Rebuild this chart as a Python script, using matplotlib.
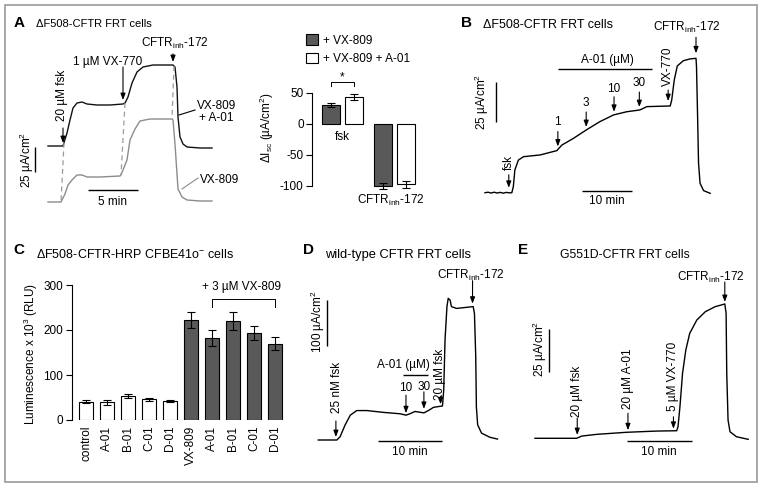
import numpy as np
import matplotlib.pyplot as plt

plt.rcParams['font.family'] = ['Liberation Sans', 'DejaVu Sans']
plt.rcParams['font.size'] = 8.5
plt.rcParams['mathtext.fontset'] = 'custom'
plt.rcParams['mathtext.rm'] = 'Liberation Sans'
plt.rcParams['mathtext.it'] = 'Liberation Sans:italic'
plt.rcParams['mathtext.default'] = 'regular'
plt.rcParams['axes.unicode_minus'] = False
plt.rcParams['axes.linewidth'] = 0.8

W, H = 762, 487

# ---- data -------------------------------------------------------------
# A: Isc traces (time in min, current in uA/cm2 relative to baseline)
a_t_combo = [0, 1.5, 1.9, 2.2, 2.5, 2.9, 3.4, 3.9, 4.9, 6.2, 7.5, 7.7, 8.0, 8.4,
             8.9, 9.5, 10.5, 12.5, 12.7, 12.9, 13.0, 13.2, 13.5, 13.9, 15.2, 16.4]
a_i_combo = [0, 0, 13, 26, 38, 43, 44, 42, 41, 41, 42, 43, 49, 63,
             74, 79, 81, 81, 79, 59, 29, 9, 2, -1, -2, -2]
a_t_vx809 = [0, 1.3, 1.7, 2.0, 2.4, 2.9, 3.4, 3.9, 5.2, 7.2, 7.3, 7.9, 8.2, 8.7,
             9.2, 10.2, 12.4, 12.5, 12.7, 12.9, 13.0, 13.4, 13.9, 15.2, 16.4]
a_i_vx809 = [0, 0, 8, 17, 22, 27, 27, 25, 25, 26, 27, 42, 62, 73,
             81, 83, 83, 82, 58, 28, 13, 5, 2, 1, 1]

# A: summary bars
a_groups = ['fsk', 'CFTR$_{inh}$-172']
a_vx809 = [30, -101]
a_vx809_err = [3, 5]
a_combo = [43, -98]
a_combo_err = [5, 5]

# B
b_t = [0, 0.6, 1.2, 1.8, 2.4, 3.0, 3.6, 4.2, 4.8, 5.3, 5.6, 5.9, 6.6, 7.6, 10.9,
       14.2, 15.2, 17.5, 20.0, 22.7, 25.4, 28.0, 30.6, 32.0, 36.6, 36.9, 37.4,
       38.0, 39.2, 40.5, 41.7, 41.8, 42.0, 42.2, 42.5, 43.2, 44.5]
b_i = [0, 0.3, -0.2, 0.3, -0.2, 0.2, -0.3, 0.2, -0.1, 0, 3.8, 14.2, 20.4, 22.5, 23.6,
       26.3, 29.8, 34, 39.2, 44.4, 48.6, 50.6, 51.7, 53.8, 54.2, 57.9, 70.4,
       79.2, 82.5, 83.6, 84, 78.8, 49.8, 18.6, 5.9, 1.3, -0.4]
b_a01_conc = ['1', '3', '10', '30']
b_a01_time = [14.4, 20.0, 25.5, 30.5]

# C
c_labels = ['control', 'A-01', 'B-01', 'C-01', 'D-01',
            'VX-809', 'A-01', 'B-01', 'C-01', 'D-01']
c_values = [41, 39, 53, 46, 42, 222, 183, 220, 193, 170]
c_errors = [4, 5, 5, 3, 2, 17, 18, 21, 15, 15]

# D
d_t = [0, 2.9, 3.4, 4.2, 5.0, 6.0, 7.6, 10.2, 12.8, 13.7, 14.3, 15.1, 16.5, 17.2,
       18.0, 19.4, 19.6, 19.8, 20.1, 20.3, 20.6, 20.8, 21.6, 24.2, 24.4, 24.6,
       24.7, 24.9, 25.5, 26.8, 28.0]
d_i = [0, 0, 7, 33, 54, 64, 64, 60, 57, 54, 57, 62, 59, 64,
       71, 74, 109, 217, 290, 308, 304, 290, 286, 290, 275, 181,
       72, 33, 15, 6, 2]

# E
e_t = [0, 6.4, 7.2, 9.5, 14.1, 18.7, 21.8, 22.0, 22.3, 22.7, 23.2, 23.8, 24.9,
       26.2, 27.7, 29.2, 29.4, 29.5, 29.7, 30.0, 31.0, 32.8]
e_i = [0, 0, 1.3, 2.3, 3.5, 4.2, 4.4, 6.7, 18.4, 37.8, 51.3, 61, 68.8,
       73.6, 76.5, 78.1, 72.7, 37.8, 10.6, 3.8, 0.9, -0.6]

DARK = '#595959'

fig = plt.figure(figsize=(W / 100, H / 100), dpi=100)

# overlay in pixel coordinates for frame and free text
ov = fig.add_axes([0, 0, 1, 1])
ov.set_xlim(0, W)
ov.set_ylim(H, 0)
ov.axis('off')
ov.add_patch(plt.Rectangle((4.5, 4.5), 752.5, 477, fill=False, ec='#9a9a9a', lw=1.2))


def txt(x, y, s, size=8.5, rot=0, ha='center', va='center', **kw):
    ov.text(x, y, s, fontsize=size, rotation=rot, ha=ha, va=va, **kw)


def px_axes(left, top, right, bottom):
    return fig.add_axes([left / W, 1 - bottom / H, (right - left) / W, (bottom - top) / H])


def trace_axes(box, x0, t_px, y0, i_px):
    # box in pixels; x0/y0 = pixel of t=0 / I=0; t_px px per min, i_px px per uA/cm2
    left, top, right, bottom = box
    ax = px_axes(*box)
    ax.set_xlim((left - x0) / t_px, (right - x0) / t_px)
    ax.set_ylim((y0 - bottom) / i_px, (y0 - top) / i_px)
    ax.axis('off')
    return ax


def arrow(ax, t, tt, ii, length, gap=3, offset=0):
    y = np.interp(t, tt, ii) + offset
    ax.annotate('', xy=(t, y), xytext=(0, length + gap), textcoords='offset pixels',
                arrowprops=dict(arrowstyle='-|>,head_length=0.45,head_width=0.17',
                                lw=0.8, color='black', shrinkA=0, shrinkB=gap * 0.72))


def bar(ax, x0, x1, y0, y1, **kw):
    ax.plot([x0, x1], [y0, y1], color='black', lw=1.0, solid_capstyle='butt',
            clip_on=False, **kw)


# ---- panel letters and titles -----------------------------------------
for x, y, letter in [(19, 23, 'A'), (467, 23, 'B'), (19, 250, 'C'), (308, 250, 'D'), (523, 250, 'E')]:
    txt(x, y, letter, size=11, weight='bold')
txt(36, 24, '\u0394F508-CFTR FRT cells', size=8, ha='left')
txt(483, 25, '\u0394F508-CFTR FRT cells', size=9, ha='left')
txt(36, 255, '\u0394F508-CFTR-HRP CFBE41o$^{-}$ cells', size=9, ha='left')
txt(325, 255, 'wild-type CFTR FRT cells', size=9.3, ha='left')
txt(560, 255, 'G551D-CFTR FRT cells', size=8.8, ha='left')

# ---- A traces -----------------------------------------------------------
LOW = -56  # vertical offset of the VX-809 trace
axA = trace_axes((15, 30, 245, 230), 48, 10, 146, 1)
axA.plot(a_t_combo, a_i_combo, color='#111111', lw=1.0)
axA.plot(a_t_vx809, np.array(a_i_vx809) + LOW, color='#8c8c8c', lw=1.0)
for tu, tl in [(1.6, 1.3), (7.7, 7.3), (12.6, 12.4)]:
    axA.plot([tu, tl], [np.interp(tu, a_t_combo, a_i_combo),
                        np.interp(tl, a_t_vx809, a_i_vx809) + LOW],
             color='#9a9a9a', lw=0.9, ls=(0, (4, 3)))
arrow(axA, 1.5, a_t_combo, a_i_combo, 15)
arrow(axA, 7.5, a_t_combo, a_i_combo, 33, gap=4)
arrow(axA, 12.5, a_t_combo, a_i_combo, 8)
axA.plot([14.7, 13.1], [36, 31], color='black', lw=0.8)
axA.plot([15.0, 13.4], [-32, -43], color='#8c8c8c', lw=0.8)
bar(axA, -1.3, -1.3, -1, -26)
bar(axA, 4, 9, -44, -44)
txt(62.5, 95.5, '20 \u00b5M fsk', rot=90)
txt(108, 62, '1 \u00b5M VX-770')
txt(175, 43, 'CFTR$_{inh}$-172')
txt(197, 106, 'VX-809', ha='left')
txt(199, 118, '+ A-01', ha='left')
txt(200, 180, 'VX-809', ha='left')
txt(27, 160, '25 \u00b5A/cm$^2$', rot=90)
txt(113, 202, '5 min')

# ---- A bars -------------------------------------------------------------
axAb = px_axes(312, 92.7, 420, 185.7)
pos1 = np.array([0, 2.3])
b1 = axAb.bar(pos1, a_vx809, 0.78, color=DARK, edgecolor='black', lw=0.8,
              yerr=a_vx809_err, capsize=3.2, error_kw=dict(elinewidth=0.8, capthick=0.8))
b2 = axAb.bar(pos1 + 1, a_combo, 0.78, color='white', edgecolor='black', lw=0.8,
              yerr=a_combo_err, capsize=3.2, error_kw=dict(elinewidth=0.8, capthick=0.8))
for c in (b1, b2):
    for p in c.patches:
        p.set_clip_on(False)
    for l in c.errorbar.lines[1] + c.errorbar.lines[2]:
        l.set_clip_on(False)
axAb.set_ylim(-100, 50)
axAb.set_xlim(-0.85, 3.93)
axAb.set_yticks([-100, -50, 0, 50])
axAb.set_xticks([])
for s in ('top', 'right', 'bottom'):
    axAb.spines[s].set_visible(False)
axAb.tick_params(axis='y', length=4, width=0.8, labelsize=8.5, pad=2)
axAb.plot([0, 0, 1, 1], [60, 67, 67, 60], color='black', lw=0.7, clip_on=False)
axAb.patch.set_alpha(0)
txt(342, 77, '*')
txt(342, 137, a_groups[0])
txt(391, 200, a_groups[1])
txt(267, 128, '\u0394I$_{sc}$ (\u00b5A/cm$^2$)', rot=90)
fig.legend([b1, b2], ['+ VX-809', '+ VX-809 + A-01'], loc='upper left',
           bbox_to_anchor=(305.5 / W, 1 - 34.5 / H), frameon=False, fontsize=8.5,
           handlelength=1.1, handleheight=1.0, handletextpad=0.35,
           labelspacing=0.5, borderpad=0, borderaxespad=0)

# ---- B ------------------------------------------------------------------
axB = trace_axes((470, 30, 740, 215), 485, 5.06, 192.7, 1.6)
axB.plot(b_t, b_i, color='black', lw=1.0)
arrow(axB, 4.7, b_t, b_i, 13, gap=5)
for t in b_a01_time:
    arrow(axB, t, b_t, b_i, 15, gap=3)
arrow(axB, 36.2, b_t, b_i, 11, gap=5)
arrow(axB, 41.7, b_t, b_i, 16, gap=5)
bar(axB, 14.5, 33.1, 77.3, 77.3, )
bar(axB, 2.2, 2.2, 44, 69)
bar(axB, 19.1, 29.1, 1.2, 1.2)
txt(509, 162, 'fsk', rot=90)
for (x, y), s in zip([(557.7, 121.7), (586, 103.3), (614, 89.3), (639.3, 83.3)], b_a01_conc):
    txt(x, y, s)
txt(607, 60, 'A-01 (\u00b5M)')
txt(668, 66, 'VX-770', rot=90)
txt(687, 27, 'CFTR$_{inh}$-172')
txt(482, 102, '25 \u00b5A/cm$^2$', rot=90)
txt(607, 201, '10 min')

# ---- C ------------------------------------------------------------------
axC = px_axes(71.7, 285, 290, 420)
xc = np.arange(len(c_values))
axC.bar(xc, c_values, 0.67, color=['white'] * 5 + [DARK] * 5, edgecolor='black', lw=0.8,
        yerr=c_errors, capsize=2.6, error_kw=dict(elinewidth=0.8, capthick=0.8))
axC.set_ylim(0, 300)
axC.set_xlim(-0.7, 9.7)
axC.set_yticks([0, 100, 200, 300])
axC.set_xticks(xc)
axC.set_xticklabels(c_labels, rotation=90, fontsize=8.5)
axC.tick_params(axis='x', length=0, pad=4)
axC.tick_params(axis='y', length=4, width=0.8, labelsize=8.5, pad=2)
for s in ('top', 'right', 'bottom'):
    axC.spines[s].set_visible(False)
axC.patch.set_alpha(0)
axC.plot([6, 6, 9, 9], [252, 268, 268, 252], color='black', lw=0.7, clip_on=False)
txt(241.7, 287.3, '+ 3 \u00b5M VX-809')
txt(31, 354, 'Luminescence x 10$^3$ (RLU)', rot=90)

# ---- D ------------------------------------------------------------------
axD = trace_axes((300, 260, 515, 470), 318.3, 6.4, 440, 0.46)
axD.plot(d_t, d_i, color='black', lw=1.0)
arrow(axD, 2.75, d_t, d_i, 16)
arrow(axD, 13.7, d_t, d_i, 18, gap=2)
arrow(axD, 16.5, d_t, d_i, 17, gap=4)
arrow(axD, 19.1, d_t, d_i, 8, gap=2)
arrow(axD, 24.1, d_t, d_i, 23, gap=3)
bar(axD, 13.2, 17.2, 141, 141)
bar(axD, 1.4, 1.4, 204, 304)
bar(axD, 9.3, 19.3, -2.2, -2.2)
txt(337, 387, '25 nM fsk', rot=90)
txt(403, 365, 'A-01 (\u00b5M)')
txt(406, 388, '10')
txt(424, 386.7, '30')
txt(440, 374, '20 \u00b5M fsk', rot=90)
txt(471, 275, 'CFTR$_{inh}$-172')
txt(318, 322, '100 \u00b5A/cm$^2$', rot=90)
txt(410, 452, '10 min')

# ---- E ------------------------------------------------------------------
axE = trace_axes((525, 260, 760, 470), 535, 6.5, 438.3, 1.72)
axE.plot(e_t, e_i, color='black', lw=1.0)
arrow(axE, 6.5, e_t, e_i, 17)
arrow(axE, 14.3, e_t, e_i, 17, gap=2)
arrow(axE, 21.3, e_t, e_i, 12, gap=2)
arrow(axE, 29.2, e_t, e_i, 20, gap=2)
bar(axE, 2.2, 2.2, 38.7, 63.7)
bar(axE, 14.1, 24.1, -1.6, -1.6)
txt(577.3, 391, '20 \u00b5M fsk', rot=90)
txt(627.7, 379, '20 \u00b5M A-01', rot=90)
txt(673.3, 376, '5 \u00b5M VX-770', rot=90)
txt(711, 277, 'CFTR$_{inh}$-172')
txt(540, 349, '25 \u00b5A/cm$^2$', rot=90)
txt(659, 452, '10 min')

fig.savefig('out.png', dpi=100)
